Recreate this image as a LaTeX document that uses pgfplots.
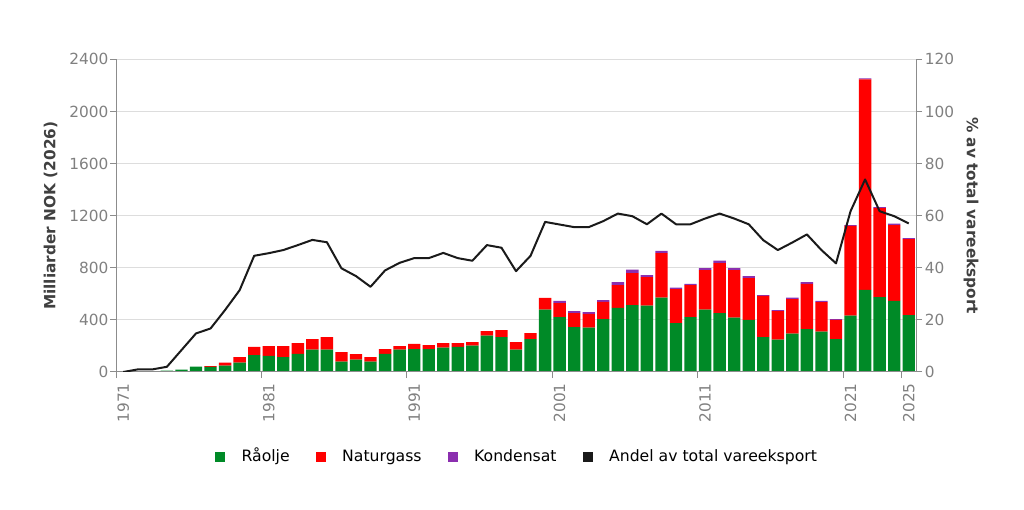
\documentclass[border=0pt]{standalone}
\usepackage{pgfplots}
\pgfplotsset{compat=1.18}
\usepackage{pgfplotstable}
\usepackage{fontspec}
\setmainfont{DejaVu Sans}
\definecolor{cgreen}{HTML}{008A27}
\definecolor{cred}{HTML}{FF0000}
\definecolor{cpurple}{HTML}{8B2FAF}
\definecolor{tickgray}{HTML}{808080}
\definecolor{axgray}{HTML}{8C8C8C}
\definecolor{gridgray}{HTML}{DDDDDD}
\definecolor{labgray}{HTML}{404040}
\definecolor{linecol}{HTML}{1A1A1A}
\newcommand\tickfont{\fontsize{11.5}{13.8}\selectfont}
\newcommand\legfont{\fontsize{11.75}{14}\selectfont}

\pgfplotstableread{
year oil gas cond share
1971 0 0 0 0
1972 0 0 0 1
1973 3 0 0 1
1974 10 0 0 2
1975 18 0 0 8.4
1976 41 0 0 14.8
1977 39 7 0 16.7
1978 48 23 0 23.8
1979 71 44 0 31.4
1980 130 62 0 44.6
1981 123 76 0 45.6
1982 115 84 0 46.8
1983 140 82 0 48.7
1984 171 82 0 50.7
1985 171 97 0 49.8
1986 79 74 0 39.8
1987 95 43 0 36.8
1988 79 36 0 32.7
1989 140 36 0 39.0
1990 171 28 0 41.9
1991 176 39 0 43.7
1992 176 31 0 43.7
1993 187 35 0 45.7
1994 192 30 0 43.7
1995 202 28 0 42.7
1996 279 35 0 48.7
1997 268 54 0 47.7
1998 171 59 0 38.7
1999 253 46 0 44.6
2000 478 90 0 57.6
2001 422 107 16 56.6
2002 345 107 16 55.6
2003 340 107 13 55.6
2004 406 133 13 57.9
2005 493 174 23 60.8
2006 514 245 26 59.8
2007 509 220 15 56.7
2008 570 343 17 60.8
2009 376 261 10 56.7
2010 422 245 10 56.7
2011 478 304 16 58.9
2012 452 384 18 60.8
2013 417 365 16 58.9
2014 401 320 15 56.7
2015 268 317 6 50.6
2016 248 220 7 46.8
2017 294 266 10 49.7
2018 330 347 13 52.8
2019 309 228 8 46.8
2020 253 148 5 41.7
2021 432 690 5 61.7
2022 631 1616 6 73.9
2023 575 683 7 61.7
2024 545 582 11 59.8
2025 437 583 8 57.0
}\data

\pgfplotsset{
  base/.style={
    at={(87pt,103.5pt)}, anchor=south west,
    scale only axis, width=600pt, height=234.5pt,
    xmin=1970.5, xmax=2025.5,
    /pgf/number format/1000 sep={},
    /pgf/number format/assume math mode=true,
    tick label style={font=\tickfont, color=tickgray},
    axis line style={axgray, line width=0.75pt},
    tick style={axgray, line width=0.75pt},
    tick align=outside,
    major tick length=4.5pt,
  }
}

\begin{document}
\begin{tikzpicture}
\path[use as bounding box] (0,0) rectangle (768pt,382.5pt);
\begin{axis}[base,
  ybar stacked, bar width=0.85,
  ymin=0, ymax=2400,
  ytick={0,400,...,2400},
  axis y line*=left, axis x line*=bottom,
  xtick={1971,1981,1991,2001,2011,2021,2025},
  xticklabels={1971,1981,1991,2001,2011,2021,2025},
  xtick style={draw=none},
  xticklabel style={rotate=90, anchor=east, inner sep=0pt, xshift=-3.75pt},
  yticklabel style={inner sep=0pt, xshift=-1pt},
  ymajorgrids, grid style={gridgray, line width=0.75pt},
  ylabel={Milliarder NOK (2026)},
  every axis y label/.style={at={(axis description cs:0,0.5)}, xshift=-49.1pt, rotate=90, anchor=center,
    font=\tickfont\bfseries, text=labgray},
]
\addplot[fill=cgreen, draw=none] table[x=year, y=oil] {\data};
\addplot[fill=cred, draw=none] table[x=year, y=gas] {\data};
\addplot[fill=cpurple, draw=none] table[x=year, y=cond] {\data};
\end{axis}
\begin{axis}[base,
  ymin=0, ymax=120,
  ytick={0,20,...,120},
  axis y line*=right, axis x line*=bottom,
  xtick={1970.5,1980.5,1990.5,2000.5,2010.5,2020.5,2024.5},
  xticklabels={},
  yticklabel style={inner sep=0pt, xshift=2pt},
  ylabel={\% av total vareeksport},
  every axis y label/.style={at={(axis description cs:1,0.5)}, xshift=41.25pt, rotate=-90, anchor=center,
    font=\tickfont\bfseries, text=labgray},
  legend image code/.code={\fill[#1] (0pt,-3.375pt) rectangle (6.75pt,3.375pt);},
  legend style={at={(axis description cs:0.5,-0.272)}, anchor=center, draw=none, fill=none,
    font=\legfont, text=black, legend columns=4,
    /tikz/every odd column/.append style={column sep=12.75pt},
    /tikz/every even column/.append style={column sep=19.5pt},
    nodes={inner sep=0pt, text height=9.5pt, text depth=2.5pt}},
]
\addlegendimage{cgreen}\addlegendentry{Råolje}
\addlegendimage{cred}\addlegendentry{Naturgass}
\addlegendimage{cpurple}\addlegendentry{Kondensat}
\addlegendimage{linecol}\addlegendentry{Andel av total vareeksport}
\addplot[color=linecol, line width=1.5pt, mark=none, line join=round, forget plot] table[x=year, y=share] {\data};
\end{axis}
\end{tikzpicture}
\end{document}
